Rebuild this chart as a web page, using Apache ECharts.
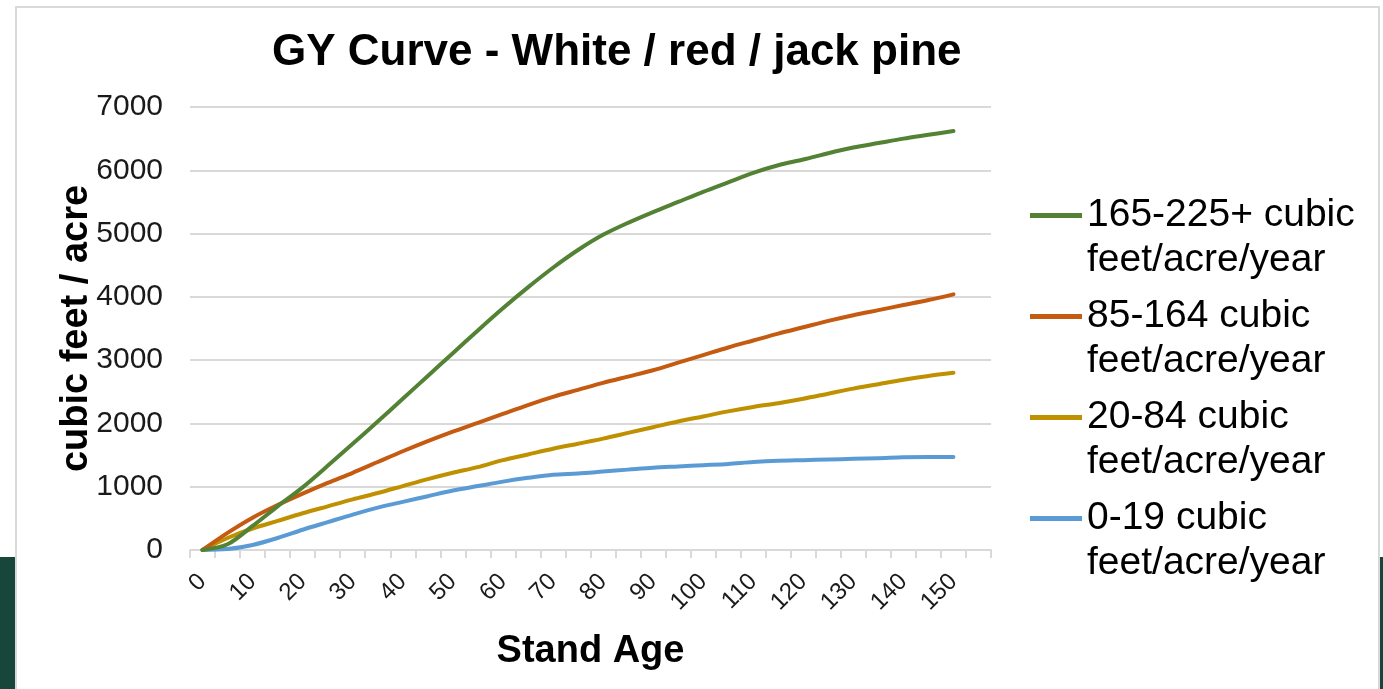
<!DOCTYPE html>
<html>
<head>
<meta charset="utf-8">
<title>GY Curve - White / red / jack pine</title>
<script src="https://cdn.jsdelivr.net/npm/echarts@6/dist/echarts.min.js"></script>
<style>
  html, body { margin: 0; padding: 0; width: 1383px; height: 689px; overflow: hidden; background: #ffffff; }
  .band { position: absolute; background: #18463a; top: 557px; height: 132px; }
  #bandL { left: 0; width: 15px; }
  #bandR { left: 1378px; width: 5px; }
  #frame { position: absolute; left: 15px; top: 6px; width: 1361px; height: 700px; border: 2px solid #d9d9d9; background: #ffffff; }
  #chart { position: absolute; left: 0; top: 0; width: 1383px; height: 689px; }
</style>
</head>
<body>
<div class="band" id="bandL"></div>
<div class="band" id="bandR"></div>
<div id="frame"></div>
<div id="chart"></div>
<script>
// Stand age categories (years); the last slot is left empty like the source workbook
const ages = [0, 5, 10, 15, 20, 25, 30, 35, 40, 45, 50, 55, 60, 65, 70, 75, 80, 85, 90, 95, 100,
              105, 110, 115, 120, 125, 130, 135, 140, 145, 150, 155];

// Cumulative volume (cubic feet / acre) by site productivity class
const seriesNames = [
  '165-225+ cubic\nfeet/acre/year',
  '85-164 cubic\nfeet/acre/year',
  '20-84 cubic\nfeet/acre/year',
  '0-19 cubic\nfeet/acre/year'
];
const vol165to225 = [0, 90, 380, 690, 990, 1330, 1680, 2030, 2390, 2750, 3110, 3470, 3820, 4150, 4460, 4740,
                     4980, 5170, 5340, 5500, 5660, 5810, 5960, 6080, 6170, 6270, 6360, 6430, 6500, 6560, 6620];
const vol85to164 = [0, 270, 510, 710, 890, 1060, 1220, 1390, 1560, 1720, 1870, 2010, 2150, 2290, 2420, 2530,
                    2640, 2740, 2840, 2960, 3080, 3200, 3310, 3420, 3520, 3620, 3710, 3790, 3870, 3950, 4040];
const vol20to84 = [0, 190, 340, 460, 580, 690, 800, 900, 1010, 1120, 1220, 1310, 1420, 1510, 1600, 1680,
                   1760, 1850, 1940, 2030, 2110, 2190, 2260, 2320, 2390, 2470, 2550, 2620, 2690, 2750, 2800];
const vol0to19 = [0, 15, 80, 190, 320, 440, 560, 670, 760, 850, 940, 1010, 1080, 1140, 1190, 1210,
                  1240, 1270, 1300, 1320, 1340, 1360, 1390, 1410, 1420, 1430, 1440, 1450, 1465, 1470, 1470];

const yTicks = { min: 0, max: 7000, step: 1000 };

const colors = ['#548235', '#c55a11', '#bf9000', '#5b9bd5'];
const FONT = '"Liberation Sans", Arial, Helvetica, sans-serif';
const GRID_COLOR = '#d9d9d9';

const chart = echarts.init(document.getElementById('chart'), null, { renderer: 'canvas' });

const volumes = [vol165to225, vol85to164, vol20to84, vol0to19];

chart.setOption({
  animation: false,
  backgroundColor: 'transparent',
  color: colors,
  title: {
    text: 'GY Curve - White / red / jack pine',
    left: 272,
    top: 31,
    padding: 0,
    textStyle: { fontFamily: FONT, fontSize: 44, fontWeight: 'bold', color: '#000000' }
  },
  legend: {
    orient: 'vertical',
    left: 1030,
    top: 148,
    padding: 0,
    itemGap: -34,
    itemWidth: 52,
    itemHeight: 5,
    icon: 'rect',
    // a leading blank line keeps each swatch level with the first text line
    formatter: (name) => '\n' + name,
    textStyle: { fontFamily: FONT, fontSize: 39, lineHeight: 45, color: '#000000', padding: [0, 0, 0, 0] },
    data: seriesNames.map((n, i) => ({ name: n, itemStyle: { color: colors[i] } }))
  },
  grid: { left: 190, top: 107, width: 801, height: 443, containLabel: false },
  xAxis: {
    type: 'category',
    data: ages,
    boundaryGap: true,
    name: 'Stand Age',
    nameLocation: 'middle',
    nameGap: 83,
    nameMoveOverlap: false,
    nameTextStyle: { fontFamily: FONT, fontSize: 38, fontWeight: 'bold', color: '#000000', verticalAlign: 'top' },
    axisLine: { show: true, lineStyle: { color: GRID_COLOR, width: 2 } },
    axisTick: { show: true, interval: 0, length: 8, lineStyle: { color: GRID_COLOR, width: 2 } },
    axisLabel: {
      interval: 1,
      rotate: 45,
      margin: 28,
      fontFamily: FONT,
      fontSize: 24,
      color: '#1a1a1a'
    },
    splitLine: { show: false }
  },
  yAxis: {
    type: 'value',
    min: yTicks.min,
    max: yTicks.max,
    interval: yTicks.step,
    name: 'cubic feet / acre',
    nameLocation: 'middle',
    nameGap: 94,
    nameMoveOverlap: false,
    nameTextStyle: { fontFamily: FONT, fontSize: 38, fontWeight: 'bold', color: '#000000' },
    axisLine: { show: false },
    axisTick: { show: false },
    axisLabel: { margin: 27, fontFamily: FONT, fontSize: 30, color: '#1a1a1a', formatter: (v) => String(v) },
    splitLine: { show: true, lineStyle: { color: GRID_COLOR, width: 2 } }
  },
  series: seriesNames.map((name, i) => ({
    name: name,
    type: 'line',
    data: volumes[i],
    symbol: 'none',
    smooth: 0.3,
    lineStyle: { width: 4, color: colors[i], cap: 'round', join: 'round' },
    itemStyle: { color: colors[i] },
    z: 10 - i
  }))
});
</script>
</body>
</html>
